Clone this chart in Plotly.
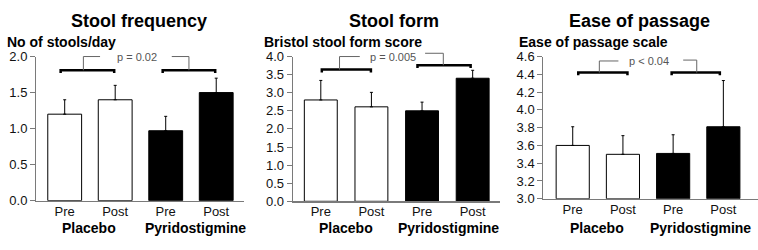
import plotly.graph_objects as go

# ---------------- data ----------------
conditions = ["Pre", "Post", "Pre", "Post"]
groups = ["Placebo", "Pyridostigmine"]
bar_colors = ["white", "white", "black", "black"]

panel_titles = ["Stool frequency", "Stool form", "Ease of passage"]
y_titles = ["No of stools/day", "Bristol stool form score", "Ease of passage scale"]
p_labels = ["p = 0.02", "p = 0.005", "p < 0.04"]

freq_mean = [1.20, 1.40, 0.97, 1.50]
freq_err = [0.20, 0.20, 0.20, 0.20]

form_mean = [2.80, 2.61, 2.50, 3.40]
form_err = [0.54, 0.40, 0.24, 0.22]

ease_mean = [3.60, 3.50, 3.51, 3.81]
ease_err = [0.21, 0.21, 0.21, 0.52]

y_ranges = [[0, 2.0], [0, 4.0], [3.0, 4.6]]
y_dticks = [0.5, 0.5, 0.2]

# ---------------- layout geometry (style) ----------------
W, H = 758, 250
x_domains = [[36 / W, 244 / W], [292.7 / W, 500 / W], [543.3 / W, 1.0]]
y_domains = [[1 - 206 / H, 1 - 52.7 / H], [1 - 206.7 / H, 1 - 52.7 / H], [1 - 204 / H, 1 - 52.7 / H]]
x_ranges = [[-0.568, 3.55], [-0.555, 3.54], [-0.586, 3.69]]
bar_widths = [0.67, 0.65, 0.66]

brackets = [
    dict(lb=(-0.08, 0.98, 1.81), ls=0.37, lt=(0.37, 0.70, 2.0), txt=(1.43, 2.0),
         rt=(2.12, 2.46, 2.0), rb=(1.94, 2.98, 1.81)),
    dict(lb=(0.02, 0.99, 3.64), ls=0.37, lt=(0.37, 0.77, 4.0), txt=(1.42, 4.0),
         rt=(2.06, 2.42, 4.09), rb=(1.91, 2.96, 3.76)),
    dict(lb=(0.11, 1.09, 4.42), ls=0.53, lt=(0.53, 0.91, 4.55), txt=(1.51, 4.55),
         rt=(2.20, 2.47, 4.56), rb=(1.97, 2.93, 4.42)),
]
group_label_x = [[0.48, 2.58], [0.49, 2.52], [0.49, 2.54]]
title_x_px = [139, 393.7, 639]
ytitle_x_px = [5.7, 262.7, 518.3]

FONT = "Liberation Sans, Arial, sans-serif"

means = [freq_mean, form_mean, ease_mean]
errs = [freq_err, form_err, ease_err]

fig = go.Figure()
shapes = []
annotations = []

for i in range(3):
    xa = "x" if i == 0 else f"x{i+1}"
    ya = "y" if i == 0 else f"y{i+1}"
    xpos = list(range(len(conditions)))
    floor = y_ranges[i][0]
    fig.add_trace(go.Bar(
        x=xpos, y=[m - floor for m in means[i]], base=floor, width=bar_widths[i],
        marker=dict(color=bar_colors, line=dict(color="black", width=1)),
        error_y=dict(type="data", array=errs[i], arrayminus=[0] * 4, symmetric=False,
                     color="black", thickness=1, width=1.5),
        xaxis=xa, yaxis=ya, showlegend=False, hoverinfo="skip",
    ))

    axn = "" if i == 0 else str(i + 1)
    fig.layout["xaxis" + axn] = dict(
        domain=x_domains[i], range=x_ranges[i], anchor=ya,
        tickvals=xpos, ticktext=conditions, ticks="",
        ticklabelstandoff=-2,
        showline=True, linecolor="#7a7a7a", linewidth=1.5,
        showgrid=False, zeroline=False, fixedrange=True,
        tickfont=dict(family=FONT, size=13, color="#111"),
    )
    fig.layout["yaxis" + axn] = dict(
        domain=y_domains[i], range=y_ranges[i], anchor=xa,
        dtick=y_dticks[i], tick0=y_ranges[i][0], tickformat=".1f",
        ticks="outside", ticklen=5, tickcolor="#7a7a7a", tickwidth=1,
        showline=True, linecolor="#7a7a7a", linewidth=1,
        showgrid=False, zeroline=False, fixedrange=True,
        tickfont=dict(family=FONT, size=13, color="#111"),
    )

    r0, r1 = y_ranges[i]
    d0, d1 = y_domains[i]

    def py(v, r0=r0, r1=r1, d0=d0, d1=d1):
        return d0 + (v - r0) / (r1 - r0) * (d1 - d0)

    tick = 3.0 / H
    b = brackets[i]

    def seg(x0, y0, x1, y1, color, width):
        shapes.append(dict(type="line", xref=xa, yref="paper", x0=x0, x1=x1, y0=y0, y1=y1,
                           line=dict(color=color, width=width)))

    for key in ("lb", "rb"):
        x0, x1, yv = b[key]
        yp = py(yv)
        shapes.append(dict(type="path", xref=xa, yref="paper",
                           path=f"M {x0},{yp - tick} L {x0},{yp} L {x1},{yp} L {x1},{yp - tick}",
                           line=dict(color="black", width=2.5)))
    seg(b["ls"], py(b["lb"][2]), b["ls"], py(b["lt"][2]), "#666", 1)
    seg(b["lt"][0], py(b["lt"][2]), b["lt"][1], py(b["lt"][2]), "#666", 1)
    seg(b["rt"][0], py(b["rt"][2]), b["rt"][1], py(b["rt"][2]), "#666", 1)
    seg(b["rt"][1], py(b["rt"][2]), b["rt"][1], py(b["rb"][2]), "#666", 1)

    annotations.append(dict(text=p_labels[i], xref=xa, yref="paper",
                            x=b["txt"][0], y=py(b["txt"][1]), showarrow=False,
                            xanchor="center", yanchor="middle",
                            font=dict(family=FONT, size=11, color="#555")))
    for g, gx in zip(groups, group_label_x[i]):
        annotations.append(dict(text=f"<b>{g}</b>", xref=xa, yref="paper",
                                x=gx, y=1 - 235 / H, showarrow=False,
                                xanchor="center", yanchor="middle",
                                font=dict(family=FONT, size=14, color="black")))
    annotations.append(dict(text=f"<b>{panel_titles[i]}</b>", xref="paper", yref="paper",
                            x=title_x_px[i] / W, y=1 - 15 / H, showarrow=False,
                            xanchor="center", yanchor="middle",
                            font=dict(family=FONT, size=18, color="black")))
    annotations.append(dict(text=f"<b>{y_titles[i]}</b>", xref="paper", yref="paper",
                            x=ytitle_x_px[i] / W, y=1 - 37 / H, showarrow=False,
                            xanchor="left", yanchor="middle", borderpad=0,
                            font=dict(family=FONT, size=14, color="black")))

fig.update_layout(
    width=W, height=H,
    margin=dict(l=0, r=0, t=0, b=0),
    paper_bgcolor="white", plot_bgcolor="white",
    shapes=shapes, annotations=annotations,
    bargap=0, font=dict(family=FONT), hovermode=False,
)

fig.write_html(
    "out.html",
    config={"displayModeBar": False, "staticPlot": True},
    post_script="document.body.style.margin='0';document.body.style.overflow='hidden';",
)
